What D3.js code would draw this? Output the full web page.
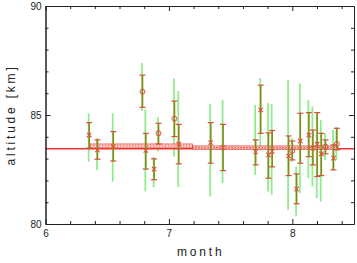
<!DOCTYPE html>
<html>
<head>
<meta charset="utf-8">
<script src="https://cdn.jsdelivr.net/npm/d3@7"></script>
<style>
  body { margin: 0; background: #fff; }
  text { font-family: "Liberation Sans", Arial, sans-serif; fill: #222; }
</style>
</head>
<body>
<svg></svg>
<script>
// data
const months  = [6.354, 6.421, 6.549, 6.786, 6.813, 6.880, 6.916, 7.045, 7.080, 7.339, 7.439, 7.703, 7.744,
                 7.807, 7.837, 7.970, 8.000, 8.035, 8.065, 8.134, 8.167, 8.202, 8.235, 8.269, 8.334, 8.361];
const alts    = [84.08, 83.40, 83.55, 86.07, 83.37, 82.52, 84.16, 84.83, 83.66, 83.73, 83.50, 83.31, 85.23,
                 83.17, 83.32, 83.12, 83.35, 81.60, 83.81, 84.08, 83.48, 83.66, 83.22, 83.55, 83.02, 83.67];
const errLo   = [83.48, 82.97, 82.89, 85.35, 82.52, 82.03, 83.67, 84.01, 82.76, 82.79, 82.45, 82.71, 84.16,
                 82.10, 82.62, 82.22, 82.94, 80.93, 82.79, 83.09, 82.71, 82.18, 82.22, 83.22, 82.48, 83.40];
const errHi   = [84.65, 83.86, 84.24, 86.83, 84.16, 82.99, 84.62, 85.64, 84.57, 84.65, 84.57, 83.86, 86.37,
                 84.18, 84.29, 84.04, 83.81, 82.30, 85.08, 85.11, 84.31, 85.11, 84.16, 83.86, 83.63, 84.39];
const spreadLo = [82.86, 82.48, 81.94, 85.18, 81.49, 81.69, 83.32, 83.09, 81.69, 81.26, 81.88, 82.26, 83.50,
                  81.49, 81.34, 80.65, 82.85, 80.35, 81.42, 82.10, 81.72, 81.19, 81.03, 82.94, 82.48, 82.94];
const spreadHi = [85.08, 83.93, 85.08, 87.38, 85.26, 83.09, 84.90, 86.68, 86.10, 85.50, 85.69, 85.46, 86.69,
                  85.55, 85.50, 86.60, 83.95, 82.63, 86.45, 85.69, 85.38, 85.08, 84.77, 84.16, 84.31, 84.46];
const symbols = ["x","x","x","o","x","x","o","o","x","x","x","x","x",
                 "x","x","x","o","x","x","x","x","x","x","o","x","o"];

// overall mean and running band
const meanAlt = 83.45;
const bandStart = [6.36, 7.19];
const bandEnd   = [7.19, 8.37];
const bandMean  = [83.58, 83.51];
const bandLo    = [83.49, 83.44];
const bandHi    = [83.67, 83.58];

const xTicks = [6, 7, 8];
const yTicks = [80, 85, 90];

const points = months.map((m, i) => ({
  month: m, alt: alts[i], lo: errLo[i], hi: errHi[i],
  slo: spreadLo[i], shi: spreadHi[i], sym: symbols[i]
}));
const bands = bandStart.map((s, i) => ({ x0: s, x1: bandEnd[i], mean: bandMean[i], lo: bandLo[i], hi: bandHi[i] }));

const margin = { top: 6, right: 3, bottom: 39, left: 45.5 };
const outerWidth = 357;
const outerHeight = 263;
const width = outerWidth - margin.left - margin.right;
const height = outerHeight - margin.top - margin.bottom;

const svg = d3.select("svg")
  .attr("width", outerWidth)
  .attr("height", outerHeight);

const g = svg.append("g")
  .attr("transform", `translate(${margin.left}, ${margin.top})`);

const x = d3.scaleLinear().domain([6, 8.5]).range([0, width]);
const y = d3.scaleLinear().domain([80, 90]).range([height, 0]);

// green spread bars
g.selectAll(".spread")
  .data(points)
  .enter().append("line")
  .attr("x1", d => x(d.month) - 0.5)
  .attr("x2", d => x(d.month) - 0.5)
  .attr("y1", d => y(d.slo))
  .attr("y2", d => y(d.shi))
  .style("stroke", "#92ec8e")
  .style("stroke-width", 1.8);

// red mean line
g.append("line")
  .attr("x1", 0).attr("x2", width)
  .attr("y1", y(meanAlt)).attr("y2", y(meanAlt))
  .style("stroke", "#e8322a")
  .style("stroke-width", 1.5);

// running mean band
g.selectAll(".band")
  .data(bands)
  .enter().append("rect")
  .attr("x", d => x(d.x0))
  .attr("width", d => x(d.x1) - x(d.x0))
  .attr("y", d => y(d.hi))
  .attr("height", d => y(d.lo) - y(d.hi))
  .style("fill", "#fadcd8")
  .style("stroke", "#e8423a")
  .style("stroke-width", 0.8);

g.selectAll(".bandmean")
  .data(bands)
  .enter().append("line")
  .attr("x1", d => x(d.x0)).attr("x2", d => x(d.x1))
  .attr("y1", d => y(d.mean)).attr("y2", d => y(d.mean))
  .style("stroke", "#e8423a")
  .style("stroke-width", 1)
  .style("stroke-dasharray", "1.5,1.5");

// olive error bars with caps
g.selectAll(".err")
  .data(points)
  .enter().append("line")
  .attr("x1", d => x(d.month)).attr("x2", d => x(d.month))
  .attr("y1", d => y(d.lo)).attr("y2", d => y(d.hi))
  .style("stroke", "#8a861c")
  .style("stroke-width", 1.6);

const caps = points.flatMap(d => [{ month: d.month, v: d.lo }, { month: d.month, v: d.hi }]);
g.selectAll(".cap")
  .data(caps)
  .enter().append("line")
  .attr("x1", d => x(d.month) - 3).attr("x2", d => x(d.month) + 3)
  .attr("y1", d => y(d.v)).attr("y2", d => y(d.v))
  .style("stroke", "#d4503a")
  .style("stroke-width", 1.2);

// markers
const mk = g.selectAll(".mk")
  .data(points)
  .enter().append("g")
  .attr("transform", d => `translate(${x(d.month)}, ${y(d.alt)})`);

mk.filter(d => d.sym === "o").append("circle")
  .attr("r", 2.5)
  .style("fill", "none")
  .style("stroke", "#e0503a")
  .style("stroke-width", 1);

mk.filter(d => d.sym === "x").append("path")
  .attr("d", "M-2.2,-2.2L2.2,2.2M-2.2,2.2L2.2,-2.2")
  .style("stroke", "#e0503a")
  .style("stroke-width", 1.1);

// axes: frame with inward ticks on all sides
const axStyle = sel => {
  sel.select(".domain").style("stroke", "#222");
  sel.selectAll(".tick line").style("stroke", "#222");
  sel.selectAll("text").style("font-size", "10px").style("fill", "#222");
};

const xMinor = d3.range(6, 8.5001, 0.2).filter(v => Math.abs(v - Math.round(v)) > 1e-6);
const yMinor = d3.range(80, 90.001, 1).filter(v => v % 5 !== 0);

g.append("g")
  .attr("transform", `translate(0, ${height})`)
  .call(d3.axisBottom(x).tickValues(xTicks).tickFormat(d3.format("d")).tickSizeInner(-5).tickSizeOuter(0).tickPadding(4))
  .call(axStyle)
  .call(sel => sel.selectAll("text").attr("dy", "0.85em"));

g.append("g")
  .attr("transform", `translate(0, ${height})`)
  .call(d3.axisBottom(x).tickValues(xMinor).tickFormat("").tickSizeInner(-3).tickSizeOuter(0))
  .call(axStyle);

g.append("g")
  .call(d3.axisTop(x).tickValues(xTicks.concat(xMinor)).tickFormat("").tickSize(0))
  .call(axStyle)
  .call(sel => sel.selectAll(".tick line").attr("y2", d => xTicks.includes(d) ? 5 : 3));

g.append("g")
  .call(d3.axisLeft(y).tickValues(yTicks).tickFormat(d3.format("d")).tickSizeInner(-5).tickSizeOuter(0).tickPadding(4))
  .call(axStyle);

g.append("g")
  .call(d3.axisLeft(y).tickValues(yMinor).tickFormat("").tickSizeInner(-3).tickSizeOuter(0))
  .call(axStyle);

g.append("g")
  .attr("transform", `translate(${width}, 0)`)
  .call(d3.axisRight(y).tickValues(yTicks.concat(yMinor)).tickFormat("").tickSize(0))
  .call(axStyle)
  .call(sel => sel.selectAll(".tick line").attr("x2", d => yTicks.includes(d) ? -5 : -3));

// axis titles
svg.append("text")
  .attr("x", margin.left + width / 2 + 1)
  .attr("y", 256)
  .attr("text-anchor", "middle")
  .style("font-size", "12px")
  .style("letter-spacing", "2.8px")
  .text("month");

svg.append("text")
  .attr("transform", `translate(15, ${margin.top + height / 2}) rotate(-90)`)
  .attr("text-anchor", "middle")
  .style("font-size", "12px")
  .style("letter-spacing", "2.8px")
  .text("altitude [km]");
</script>
</body>
</html>
